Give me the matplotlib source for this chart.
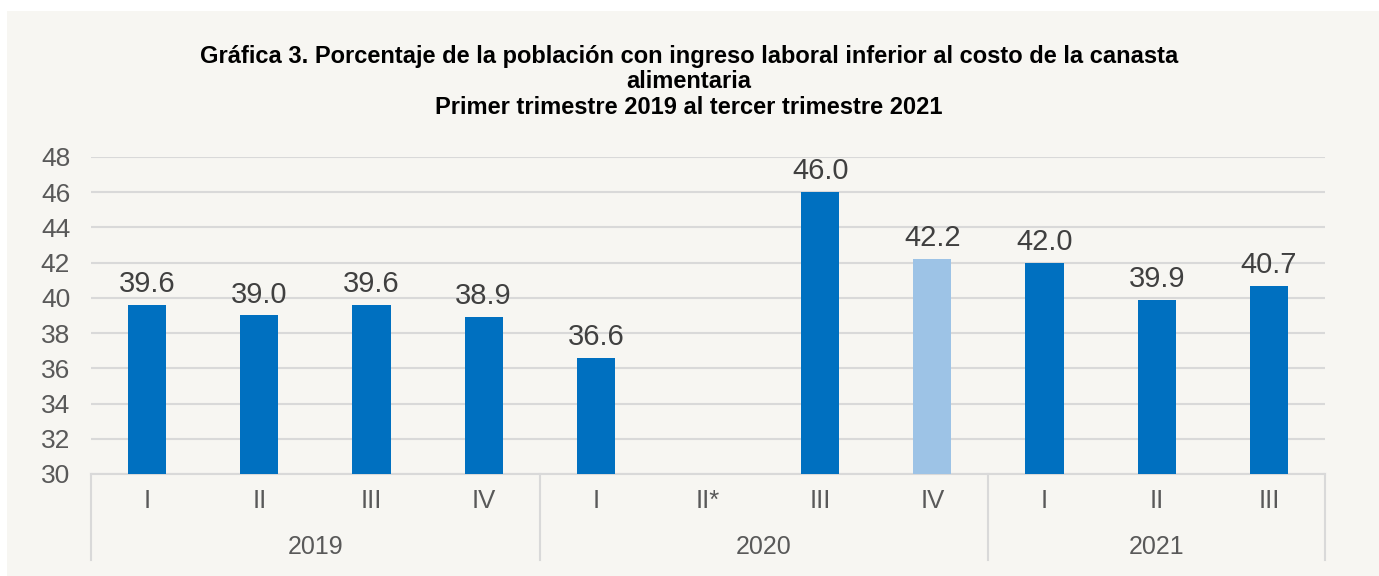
import numpy as np
import matplotlib
matplotlib.use('Agg')
import matplotlib.pyplot as plt
from matplotlib.patches import Rectangle

# datos
trimestres = ['I', 'II', 'III', 'IV', 'I', 'II*', 'III', 'IV', 'I', 'II', 'III']
anios = ['2019', '2020', '2021']
trim_por_anio = [4, 4, 3]
porcentaje = [39.6, 39.0, 39.6, 38.9, 36.6, np.nan, 46.0, 42.2, 42.0, 39.9, 40.7]
colores = ['#0070C0'] * 7 + ['#9DC3E6'] + ['#0070C0'] * 3

plt.rcParams['font.family'] = ['Liberation Sans', 'DejaVu Sans']

W, H = 1379, 576
fig = plt.figure(figsize=(W / 100, H / 100), dpi=100)
fig.patch.set_facecolor('white')
fig.patches.append(Rectangle((7 / W, 0), 1 - 7 / W, 1 - 11 / H, transform=fig.transFigure,
                             facecolor='#F7F6F2', edgecolor='none', zorder=-10))

left, right, top, bottom = 91, 1325, 157, 474
ax = fig.add_axes([left / W, 1 - bottom / H, (right - left) / W, (bottom - top) / H])
ax.set_facecolor('none')

x = np.arange(len(trimestres))
bars = ax.bar(x, porcentaje, width=0.34, color=colores, zorder=3)

ax.set_ylim(30, 48)
ax.set_xlim(-0.5, len(trimestres) - 0.5)
ax.set_yticks(range(30, 49, 2))
ax.tick_params(axis='y', length=0, labelsize=19, labelcolor='#595959', pad=15)
ax.set_xticks([])
ax.grid(axis='y', color='#D9D9D9', linewidth=1.5, zorder=0)
for s in ['top', 'right', 'left']:
    ax.spines[s].set_visible(False)
ax.spines['bottom'].set_color('#D9D9D9')
ax.spines['bottom'].set_linewidth(1.5)

# etiquetas de datos
for xi, v in zip(x, porcentaje):
    if np.isnan(v):
        continue
    ax.annotate(f'{v:.1f}', xy=(xi, v), xytext=(0, 5), textcoords='offset points',
                ha='center', va='bottom', fontsize=21, color='#404040')

# eje de categorías en dos niveles
tr = ax.get_xaxis_transform()
h = bottom - top
for xi, t in zip(x, trimestres):
    ax.text(xi, -27 / h, t, transform=tr, ha='center', va='center',
            fontsize=18.5, color='#595959')

bordes = [-0.5]
for n in trim_por_anio:
    bordes.append(bordes[-1] + n)
for a, b0, b1 in zip(anios, bordes[:-1], bordes[1:]):
    ax.text((b0 + b1) / 2, -73 / h, a, transform=tr, ha='center', va='center',
            fontsize=18, color='#595959')
for b in bordes:
    ax.plot([b, b], [0, -86 / h], transform=tr, color='#D9D9D9', linewidth=1.5,
            clip_on=False)

titulo = ('Gráfica 3. Porcentaje de la población con ingreso laboral inferior al costo de la canasta\n'
          'alimentaria\n'
          'Primer trimestre 2019 al tercer trimestre 2021')
fig.text(689 / W, 1 - 82 / H, titulo, ha='center', va='center', fontsize=17,
         fontweight='bold', color='black', linespacing=1.12)

fig.savefig('out.png', dpi=100, facecolor=fig.get_facecolor())
